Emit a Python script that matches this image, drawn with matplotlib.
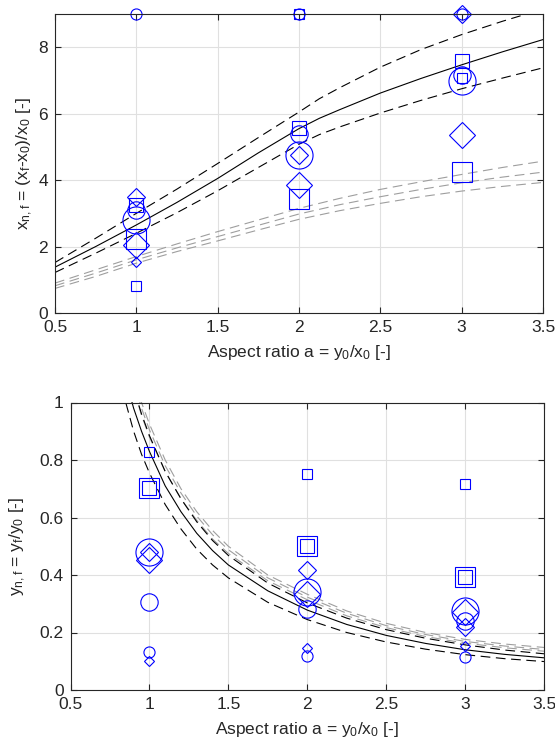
import numpy as np
import matplotlib
matplotlib.use("Agg")
import matplotlib.pyplot as plt

plt.rcParams['font.family'] = ['Liberation Sans', 'DejaVu Sans']
plt.rcParams['mathtext.fontset'] = 'custom'
plt.rcParams['mathtext.rm'] = 'Liberation Sans'
plt.rcParams['mathtext.it'] = 'Liberation Sans:italic'
plt.rcParams['mathtext.default'] = 'regular'
plt.rcParams['lines.scale_dashes'] = False

# ---------------- data ----------------
aspect = [1, 2, 3]
nan = np.nan

# top panel: x_{n,f}
circ_s_x = [9.0, 9.0, 9.0]
circ_m_x = [3.1, 5.38, 7.17]
circ_l_x = [2.79, 4.76, 6.99]
sq_s_x = [0.82, 9.0, 7.06]
sq_m_x = [3.25, 5.58, 7.58]
sq_l_x = [2.24, 3.44, 4.25]
dia_s_x = [1.55, nan, nan]
dia_m_x = [3.5, 4.76, 9.0]
dia_l_x = [2.06, 3.86, 5.36]

# bottom panel: y_{n,f}
circ_s_y = [0.131, 0.118, 0.114]
circ_m_y = [0.305, 0.283, 0.241]
circ_l_y = [0.479, 0.342, 0.275]
sq_s_y = [0.827, 0.751, 0.718]
sq_m_y = [0.702, 0.502, 0.394]
sq_l_y = [0.702, 0.502, 0.394]
dia_s_y = [0.101, 0.145, 0.152]
dia_m_y = [0.479, 0.416, 0.218]
dia_l_y = [0.452, 0.333, 0.270]

# model curves, top panel
a_top = [0.5, 0.75, 1.0, 1.25, 1.5, 1.75, 2.0, 2.125, 2.25, 2.5, 2.75, 3.0, 3.25, 3.5]
top_mid = [1.38, 2.0, 2.65, 3.33, 4.05, 4.82, 5.55, 5.86, 6.12, 6.62, 7.06, 7.47, 7.86, 8.23]
top_up = [1.52, 2.25, 3.0, 3.73, 4.5, 5.28, 6.05, 6.45, 6.78, 7.4, 7.93, 8.38, 8.78, 9.15]
top_lo = [1.22, 1.8, 2.4, 3.02, 3.68, 4.38, 5.08, 5.37, 5.6, 6.02, 6.4, 6.75, 7.07, 7.38]
top_g1 = [0.90, 1.30, 1.70, 2.08, 2.45, 2.80, 3.15, 3.30, 3.45, 3.72, 3.95, 4.17, 4.38, 4.57]
top_g2 = [0.82, 1.20, 1.60, 1.96, 2.30, 2.64, 2.98, 3.12, 3.26, 3.50, 3.72, 3.92, 4.09, 4.24]
top_g3 = [0.74, 1.10, 1.50, 1.85, 2.17, 2.50, 2.82, 2.95, 3.08, 3.30, 3.50, 3.67, 3.81, 3.93]

# model curves, bottom panel
a_bot = [0.8, 0.85, 0.9, 0.95, 1.0, 1.1, 1.2, 1.3, 1.4, 1.5, 1.75, 2.0, 2.25, 2.5, 2.75, 3.0, 3.25, 3.5]
bot_mid = [1.2, 1.08, 0.98, 0.9, 0.83, 0.71, 0.62, 0.545, 0.485, 0.435, 0.345, 0.278, 0.228, 0.19, 0.162, 0.14, 0.124, 0.112]
bot_up = [1.3, 1.16, 1.05, 0.96, 0.885, 0.76, 0.665, 0.585, 0.52, 0.468, 0.372, 0.303, 0.25, 0.21, 0.18, 0.157, 0.139, 0.126]
bot_lo = [1.1, 1.0, 0.9, 0.82, 0.755, 0.645, 0.56, 0.49, 0.435, 0.39, 0.305, 0.245, 0.2, 0.167, 0.142, 0.123, 0.109, 0.099]
bot_g1 = [1.38, 1.23, 1.1, 1.0, 0.925, 0.8, 0.7, 0.62, 0.555, 0.5, 0.4, 0.333, 0.275, 0.232, 0.2, 0.176, 0.16, 0.148]
bot_g2 = [1.34, 1.2, 1.08, 0.98, 0.905, 0.78, 0.685, 0.605, 0.54, 0.488, 0.39, 0.323, 0.267, 0.224, 0.193, 0.169, 0.153, 0.141]
bot_g3 = [1.3, 1.17, 1.05, 0.955, 0.88, 0.76, 0.665, 0.59, 0.525, 0.475, 0.38, 0.314, 0.258, 0.217, 0.186, 0.163, 0.147, 0.135]

# ---------------- styling ----------------
BLUE = (0, 0, 1)
GRAY = (0.62, 0.62, 0.62)
AXC = (0.15, 0.15, 0.15)
FS = 12.5

fig = plt.figure(figsize=(5.55, 7.52), dpi=100)
ax1 = fig.add_axes([55/555, 1-313/752, (543-55)/555, (313-14)/752])
ax2 = fig.add_axes([70.5/555, 1-690/752, (544-70.5)/555, (690-402.5)/752])

def style(ax):
    ax.set_xlim(0.5, 3.5)
    ax.grid(True, color=(0.88, 0.88, 0.88), linewidth=0.8)
    ax.set_axisbelow(True)
    for s in ax.spines.values():
        s.set_color(AXC)
        s.set_linewidth(0.8)
    ax.tick_params(direction='in', top=True, right=True, length=4, width=0.8,
                   colors=AXC, labelsize=FS, pad=5)
    ax.set_xticks([0.5, 1, 1.5, 2, 2.5, 3, 3.5])
    ax.set_xticklabels(['0.5', '1', '1.5', '2', '2.5', '3', '3.5'])

def curves(ax, a, mid, up, lo, g1, g2, g3):
    for g in (g1, g2, g3):
        ax.plot(a, g, color=GRAY, lw=0.8, dashes=(7, 4))
    ax.plot(a, mid, color='k', lw=0.8)
    ax.plot(a, up, color='k', lw=0.8, dashes=(7, 4))
    ax.plot(a, lo, color='k', lw=0.8, dashes=(7, 4))

def markers(ax, cs, cm, cl, ss, sm, sl, ds, dm, dl):
    kw = dict(ls='none', mfc='none', mec=BLUE, mew=0.8, clip_on=False)
    ax.plot(aspect, cs, marker='o', ms=8, **kw)
    ax.plot(aspect, cm, marker='o', ms=12.5, **kw)
    ax.plot(aspect, cl, marker='o', ms=19.5, **kw)
    ax.plot(aspect, ss, marker='s', ms=6.5, **kw)
    ax.plot(aspect, sm, marker='s', ms=10.5, **kw)
    ax.plot(aspect, sl, marker='s', ms=14.5, **kw)
    ax.plot(aspect, ds, marker='D', ms=5.6, **kw)
    ax.plot(aspect, dm, marker='D', ms=8.7, **kw)
    ax.plot(aspect, dl, marker='D', ms=13.7, **kw)

# top panel
style(ax1)
ax1.set_ylim(0, 9)
ax1.set_yticks([0, 2, 4, 6, 8])
curves(ax1, a_top, top_mid, top_up, top_lo, top_g1, top_g2, top_g3)
markers(ax1, circ_s_x, circ_m_x, circ_l_x, sq_s_x, sq_m_x, sq_l_x, dia_s_x, dia_m_x, dia_l_x)
ax1.set_xlabel('Aspect ratio a = y$_0$/x$_0$ [-]', fontsize=FS, color=AXC, labelpad=6)
ax1.set_ylabel('x$_{n,f}$ = (x$_f$-x$_0$)/x$_0$ [-]', fontsize=FS, color=AXC)
ax1.yaxis.set_label_coords(-0.042, 0.5)

# bottom panel
style(ax2)
ax2.set_ylim(0, 1)
ax2.set_yticks([0, 0.2, 0.4, 0.6, 0.8, 1])
ax2.set_yticklabels(['0', '0.2', '0.4', '0.6', '0.8', '1'])
curves(ax2, a_bot, bot_mid, bot_up, bot_lo, bot_g1, bot_g2, bot_g3)
markers(ax2, circ_s_y, circ_m_y, circ_l_y, sq_s_y, sq_m_y, sq_l_y, dia_s_y, dia_m_y, dia_l_y)
ax2.set_xlabel('Aspect ratio a = y$_0$/x$_0$ [-]', fontsize=FS, color=AXC, labelpad=6)
ax2.set_ylabel('y$_{n,f}$ = y$_f$/y$_0$ [-]', fontsize=FS, color=AXC)
ax2.yaxis.set_label_coords(-0.09, 0.5)

fig.savefig('out.png', dpi=100)
